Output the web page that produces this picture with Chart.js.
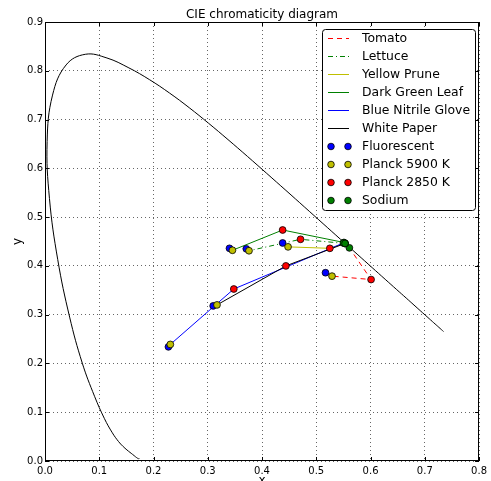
<!DOCTYPE html>
<html>
<head>
<meta charset="utf-8">
<script src="https://cdn.jsdelivr.net/npm/chart.js@4.4.1/dist/chart.umd.min.js"></script>
<style>
  html, body { margin: 0; padding: 0; background: #fff; }
  #wrap { width: 491px; height: 481px; }
</style>
</head>
<body>
<div id="wrap"><canvas id="cie"></canvas></div>
<script>
// spectral locus, CIE 1931 2 deg, 380-700 nm every 5 nm
const locusX = [0.1741, 0.1740, 0.1738, 0.1736, 0.1733, 0.1730, 0.1726, 0.1721, 0.1714, 0.1703,
  0.1689, 0.1669, 0.1644, 0.1611, 0.1566, 0.1510, 0.1440, 0.1355, 0.1241, 0.1096,
  0.0913, 0.0687, 0.0454, 0.0235, 0.0082, 0.0039, 0.0139, 0.0389, 0.0743, 0.1142,
  0.1547, 0.1929, 0.2296, 0.2658, 0.3016, 0.3373, 0.3731, 0.4087, 0.4441, 0.4788,
  0.5125, 0.5448, 0.5752, 0.6029, 0.6270, 0.6482, 0.6658, 0.6801, 0.6915, 0.7006,
  0.7079, 0.7140, 0.7190, 0.7230, 0.7260, 0.7283, 0.7300, 0.7311, 0.7320, 0.7327,
  0.7334, 0.7340, 0.7344, 0.7346, 0.7347];
const locusY = [0.0050, 0.0050, 0.0049, 0.0049, 0.0048, 0.0048, 0.0048, 0.0048, 0.0051, 0.0058,
  0.0069, 0.0086, 0.0109, 0.0138, 0.0177, 0.0227, 0.0297, 0.0399, 0.0578, 0.0868,
  0.1327, 0.2007, 0.2950, 0.4127, 0.5384, 0.6548, 0.7502, 0.8120, 0.8338, 0.8262,
  0.8059, 0.7816, 0.7543, 0.7243, 0.6923, 0.6589, 0.6245, 0.5896, 0.5547, 0.5202,
  0.4866, 0.4544, 0.4242, 0.3965, 0.3725, 0.3514, 0.3340, 0.3197, 0.3083, 0.2993,
  0.2920, 0.2859, 0.2809, 0.2770, 0.2740, 0.2717, 0.2700, 0.2689, 0.2680, 0.2673,
  0.2666, 0.2660, 0.2656, 0.2654, 0.2653];

// illuminant order in each material array: Fluorescent, Planck 5900 K, Planck 2850 K, Sodium
const illuminants = ["Fluorescent", "Planck 5900 K", "Planck 2850 K", "Sodium"];
const illumColors = ["#0000ff", "#bfbf00", "#ff0000", "#008000"];

const materials = ["Tomato", "Lettuce", "Yellow Prune", "Dark Green Leaf", "Blue Nitrile Glove", "White Paper"];
const matColors = ["#ff0000", "#008000", "#bfbf00", "#008000", "#0000ff", "#000000"];
const matDash = [[5, 4], [5, 3, 1, 3], [], [], [], []];

const tomatoX = [0.517, 0.529, 0.601, 0.561];
const tomatoY = [0.386, 0.379, 0.372, 0.437];
const lettuceX = [0.371, 0.376, 0.471, 0.553];
const lettuceY = [0.435, 0.431, 0.4545, 0.446];
const pruneX = [0.438, 0.448, 0.525, 0.553];
const pruneY = [0.447, 0.439, 0.436, 0.446];
const leafX = [0.340, 0.3455, 0.438, 0.551];
const leafY = [0.436, 0.432, 0.4736, 0.448];
const gloveX = [0.2275, 0.231, 0.348, 0.550];
const gloveY = [0.234, 0.239, 0.3526, 0.447];
const paperX = [0.310, 0.317, 0.444, 0.553];
const paperY = [0.318, 0.320, 0.400, 0.446];

const xTicks = [0, 0.1, 0.2, 0.3, 0.4, 0.5, 0.6, 0.7, 0.8];
const yTicks = [0, 0.1, 0.2, 0.3, 0.4, 0.5, 0.6, 0.7, 0.8, 0.9];

const matXs = [tomatoX, lettuceX, pruneX, leafX, gloveX, paperX];
const matYs = [tomatoY, lettuceY, pruneY, leafY, gloveY, paperY];

function pts(xs, ys) {
  return xs.map((x, i) => ({ x: x, y: ys[i] }));
}

const FONT = "'DejaVu Sans', sans-serif";
const datasets = [];

datasets.push({
  label: "",
  data: pts(locusX, locusY),
  showLine: true,
  borderColor: "#000",
  borderWidth: 1,
  pointRadius: 0,
  tension: 0.4,
  order: 30,
  noLegend: true
});

materials.forEach((m, i) => {
  datasets.push({
    label: m,
    data: pts(matXs[i], matYs[i]),
    showLine: true,
    borderColor: matColors[i],
    backgroundColor: matColors[i],
    borderWidth: 1,
    borderDash: matDash[i],
    pointRadius: 0,
    tension: 0,
    order: 20 - i
  });
});

illuminants.forEach((name, k) => {
  datasets.push({
    label: name,
    data: materials.map((m, i) => ({ x: matXs[i][k], y: matYs[i][k] })),
    showLine: false,
    backgroundColor: illumColors[k],
    borderColor: "#000",
    borderWidth: 0.8,
    pointRadius: 3.4,
    pointHoverRadius: 3.4,
    order: 5 - k,
    isScatter: true
  });
});

const decor = {
  id: "decor",
  afterDatasetsDraw(chart) {
    const ctx = chart.ctx;
    const a = chart.chartArea;
    const xs = chart.scales.x, ys = chart.scales.y;
    ctx.save();
    // frame
    ctx.strokeStyle = "#000";
    ctx.lineWidth = 1;
    ctx.strokeRect(Math.round(a.left) + 0.5, Math.round(a.top) + 0.5,
      Math.round(a.right - a.left) - 1, Math.round(a.bottom - a.top) - 1);
    // inward ticks on all sides
    ctx.beginPath();
    xTicks.forEach(v => {
      const px = Math.round(xs.getPixelForValue(v)) + 0.5;
      ctx.moveTo(px, a.bottom); ctx.lineTo(px, a.bottom - 4);
      ctx.moveTo(px, a.top); ctx.lineTo(px, a.top + 4);
    });
    yTicks.forEach(v => {
      const py = Math.round(ys.getPixelForValue(v)) + 0.5;
      ctx.moveTo(a.left, py); ctx.lineTo(a.left + 4, py);
      ctx.moveTo(a.right, py); ctx.lineTo(a.right - 4, py);
    });
    ctx.stroke();

    // legend
    const bx = 322, by = 29, bw = 153, bh = 181;
    ctx.beginPath();
    ctx.roundRect(bx + 0.5, by + 0.5, bw, bh, 3);
    ctx.fillStyle = "#fff";
    ctx.fill();
    ctx.strokeStyle = "#000";
    ctx.stroke();
    ctx.font = "12.4px " + FONT;
    ctx.textBaseline = "middle";
    let row = 0;
    chart.data.datasets.forEach(ds => {
      if (ds.noLegend) return;
      const cy = 38.5 + row * 18;
      if (ds.isScatter) {
        [331, 348].forEach(cx => {
          ctx.beginPath();
          ctx.arc(cx, cy, 3.3, 0, Math.PI * 2);
          ctx.fillStyle = ds.backgroundColor;
          ctx.fill();
          ctx.lineWidth = 0.8;
          ctx.strokeStyle = "#000";
          ctx.stroke();
        });
      } else {
        ctx.beginPath();
        ctx.setLineDash(ds.borderDash || []);
        ctx.strokeStyle = ds.borderColor;
        ctx.lineWidth = 1;
        ctx.moveTo(328, cy); ctx.lineTo(349, cy);
        ctx.stroke();
        ctx.setLineDash([]);
      }
      ctx.fillStyle = "#000";
      ctx.fillText(ds.label, 362, cy + 0.5);
      row++;
    });

    // title and axis labels
    ctx.fillStyle = "#000";
    ctx.font = "12px " + FONT;
    ctx.textAlign = "center";
    ctx.textBaseline = "alphabetic";
    ctx.fillText("CIE chromaticity diagram", (a.left + a.right) / 2, 18);
    ctx.fillText("x", (a.left + a.right) / 2, 484);
    ctx.translate(17.5, (a.top + a.bottom) / 2);
    ctx.rotate(-Math.PI / 2);
    ctx.textBaseline = "middle";
    ctx.fillText("y", 0, 0);
    ctx.restore();
  }
};

new Chart(document.getElementById("cie"), {
  type: "scatter",
  data: { datasets: datasets },
  options: {
    responsive: true,
    maintainAspectRatio: false,
    animation: false,
    layout: { padding: { top: 22, right: 10, left: 0, bottom: 0 } },
    plugins: {
      legend: { display: false },
      title: { display: false },
      tooltip: { enabled: false }
    },
    scales: {
      x: {
        type: "linear",
        min: 0,
        max: 0.8,
        afterBuildTicks: s => { s.ticks = xTicks.map(v => ({ value: v })); },
        afterFit: s => { s.height = 20; },
        ticks: {
          callback: v => v.toFixed(1),
          color: "#000",
          font: { family: FONT, size: 10 },
          padding: 4,
          maxRotation: 0
        },
        grid: { color: "rgba(0,0,0,0.6)", lineWidth: 1, drawTicks: false },
        border: { display: false, dash: [1, 3] }
      },
      y: {
        type: "linear",
        min: 0,
        max: 0.9,
        afterBuildTicks: s => { s.ticks = yTicks.map(v => ({ value: v })); },
        afterFit: s => { s.width = 45; },
        ticks: {
          callback: v => v.toFixed(1),
          color: "#000",
          font: { family: FONT, size: 10 },
          padding: 2
        },
        grid: { color: "rgba(0,0,0,0.6)", lineWidth: 1, drawTicks: false },
        border: { display: false, dash: [1, 3] }
      }
    }
  },
  plugins: [decor]
});
</script>
</body>
</html>
